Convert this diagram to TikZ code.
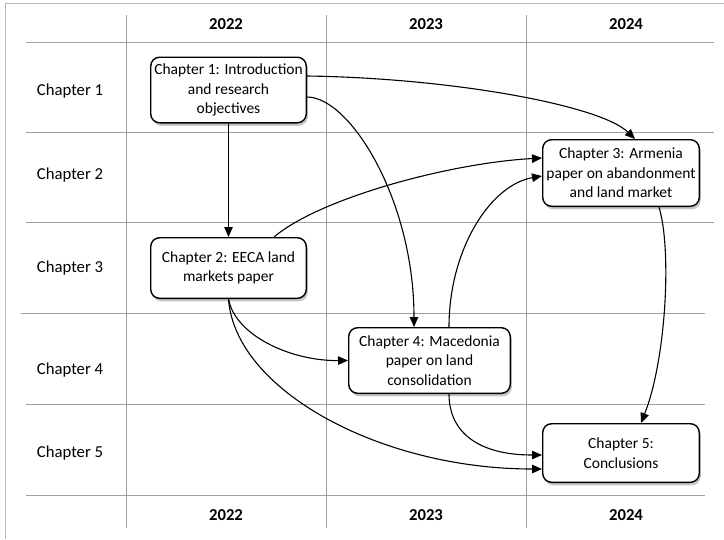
\documentclass[tikz,border=0pt]{standalone}
\usepackage{fontspec}
\setmainfont{Carlito}
\usetikzlibrary{arrows.meta,shadows}
\definecolor{gridgray}{RGB}{160,160,160}
\definecolor{framegray}{RGB}{185,185,185}
\begin{document}
\begin{tikzpicture}[x=1pt,y=-1pt,
  gridline/.style={draw=gridgray,line width=0.9pt},
  lbl/.style={font=\fontsize{16.7}{20}\selectfont},
  yr/.style={font=\fontsize{16.7}{20}\selectfont\bfseries},
  box/.style={draw=black,line width=1.4pt,rounded corners=9pt,fill=white,
    align=center,inner sep=0pt,font=\fontsize{15.5}{19.5}\selectfont,
    drop shadow={shadow xshift=1.5pt,shadow yshift=-3pt,opacity=0.45}},
  link/.style={line width=1.1pt,-{Triangle[length=10pt,width=8.5pt]}}]
\useasboundingbox (0,0) rectangle (724,539);
% frame
\draw[framegray,line width=0.8pt] (5,539) -- (5,3) -- (724,3);
% grid
\foreach \x in {126,326,526} \draw[gridline] (\x,15) -- (\x,528);
\foreach \y in {42,132,222} \draw[gridline] (26,\y) -- (714,\y);
\draw[gridline] (21,313) -- (705,313);
\foreach \y in {404,495} \draw[gridline] (26,\y) -- (705,\y);
% headers
\node[yr] (t22) at (226,24) {2022};
\node[yr] (t23) at (426,24) {2023};
\node[yr] (t24) at (626,24) {2024};
\node[yr] (b22) at (226,515) {2022};
\node[yr] (b23) at (426,515) {2023};
\node[yr] (b24) at (626,515) {2024};
\node[lbl] (r1) at (70,91) {Chapter 1};
\node[lbl] (r2) at (70,175) {Chapter 2};
\node[lbl] (r3) at (70,268) {Chapter 3};
\node[lbl] (r4) at (70,370) {Chapter 4};
\node[lbl] (r5) at (70,453) {Chapter 5};
% boxes
\node[box,minimum width=155.6pt,minimum height=65.6pt] (b1) at (228.5,90)
  {Chapter 1: Introduction\\and research\\objectives};
\node[box,minimum width=155.6pt,minimum height=60.6pt] (b2) at (228.5,268)
  {Chapter 2: EECA land\\markets paper};
\node[box,minimum width=156.6pt,minimum height=66.6pt] (b3) at (621,173)
  {Chapter 3: Armenia\\paper on abandonment\\and land market};
\node[box,minimum width=161.6pt,minimum height=65.6pt] (b4) at (429.5,360.5)
  {Chapter 4: Macedonia\\paper on land\\consolidation};
\node[box,minimum width=156.6pt,minimum height=58.6pt] (b5) at (621,453)
  {Chapter 5:\\Conclusions};
% connectors
\draw[link] ([yshift=14pt]b1.east) .. controls (450,78) and (600,105) .. ([xshift=14pt]b3.north);
\draw[link] ([yshift=-7pt]b1.east) .. controls (350,97) and (414,200) .. ([xshift=-15.5pt]b4.north);
\draw[link] (b1.south) -- (b2.north);
\draw[link] ([xshift=45.5pt]b2.north) .. controls (320,198) and (450,163) .. ([yshift=15pt]b3.west);
\draw[link] ([xshift=19.5pt]b4.north) .. controls (449,250) and (490,185) .. ([yshift=-3pt]b3.west);
\draw[link] (b2.south) .. controls (235,335) and (290,361) .. (b4.west);
\draw[link] (b2.south) .. controls (235,390) and (380,469) .. ([yshift=-16pt]b5.west);
\draw[link] ([xshift=19.5pt]b4.south) .. controls (449,432) and (478,455) .. ([yshift=-2pt]b5.west);
\draw[link] ([xshift=38pt]b3.south) .. controls (672,250) and (666,360) .. ([xshift=20pt]b5.north);
\end{tikzpicture}
\end{document}
